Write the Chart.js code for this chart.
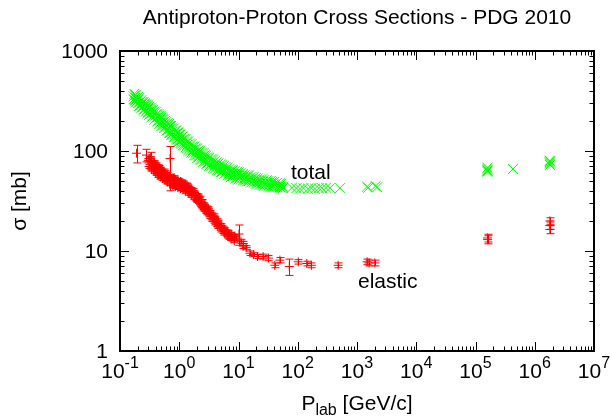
<!DOCTYPE html>
<html>
<head>
<meta charset="utf-8">
<title>Antiproton-Proton Cross Sections</title>
<script src="https://cdn.jsdelivr.net/npm/chart.js@4.4.1/dist/chart.umd.min.js"></script>
<style>
  body { margin: 0; background: #fff; }
  canvas { display: block; }
</style>
</head>
<body>
<canvas id="sigmaChart" width="611" height="416"></canvas>
<script>
// PDG 2010 pbar-p cross sections (P_lab in GeV/c, sigma in mb)

const totalP = [
  0.17, 0.17, 0.18, 0.18, 0.18, 0.19, 0.19, 0.20, 0.20, 0.20,
  0.22, 0.22, 0.22, 0.24, 0.24, 0.24, 0.26, 0.26, 0.26, 0.28,
  0.28, 0.28, 0.30, 0.30, 0.30, 0.33, 0.33, 0.33, 0.36, 0.36,
  0.36, 0.40, 0.40, 0.40, 0.44, 0.44, 0.44, 0.48, 0.48, 0.48,
  0.53, 0.53, 0.53, 0.58, 0.58, 0.58, 0.64, 0.64, 0.64, 0.70,
  0.70, 0.70, 0.77, 0.77, 0.77, 0.85, 0.85, 0.85, 0.93, 0.93,
  0.93, 1.0, 1.0, 1.0, 1.1, 1.1, 1.1, 1.2, 1.2, 1.2,
  1.35, 1.35, 1.35, 1.5, 1.5, 1.5, 1.7, 1.7, 1.7, 1.9,
  1.9, 1.9, 2.1, 2.1, 2.1, 2.4, 2.4, 2.4, 2.7, 2.7,
  2.7, 3.0, 3.0, 3.0, 3.5, 3.5, 3.5, 4.0, 4.0, 4.0,
  4.6, 4.6, 4.6, 5.3, 5.3, 5.3, 6.0, 6.0, 6.0, 7.0,
  7.0, 7.0, 8.0, 8.0, 8.0, 9.5, 9.5, 9.5, 11, 11,
  11, 13, 13, 13, 15, 15, 15, 18, 18, 18,
  21, 21, 21, 25, 25, 25, 30, 30, 30, 35,
  35, 35, 40, 40, 40, 50, 50, 50, 56, 56,
  80, 95, 109, 125, 149, 170, 196, 225, 257, 300,
  350, 516, 1480, 1550, 2050, 2200, 1.59e5, 1.59e5, 1.59e5, 1.59e5,
  1.59e5, 4.3e5, 1.8e6, 1.8e6, 1.8e6, 1.8e6, 1.8e6,
  0.175, 0.175, 0.185, 0.185, 0.21, 0.21, 0.23, 0.23, 0.25, 0.25,
  0.27, 0.27, 0.29, 0.29, 0.31, 0.31, 0.34, 0.34, 0.38, 0.38,
  0.42, 0.42, 0.46, 0.46, 0.50, 0.50, 0.55, 0.55, 0.61, 0.61,
  0.67, 0.67, 0.73, 0.73, 0.81, 0.81, 0.89, 0.89, 0.97, 0.97,
  1.05, 1.05, 1.15, 1.15, 1.28, 1.28, 1.42, 1.42, 1.6, 1.6,
  1.8, 1.8, 2.0, 2.0, 2.25, 2.25, 2.55, 2.55, 2.85, 2.85,
  3.2, 3.2, 3.7, 3.7, 4.3, 4.3, 5.0, 5.0, 5.7, 5.7,
  6.5, 6.5, 7.5, 7.5, 8.8, 8.8, 10, 10, 12, 12,
  14, 14, 16.5, 16.5, 19.5, 19.5, 23, 23, 27, 27,
  32, 32, 37, 37, 45, 45, 52, 52
];
const totalSigma = [
  352, 330, 340, 318, 360, 335, 312, 322, 300, 345,
  310, 292, 285, 298, 275, 310, 285, 262, 300, 275,
  255, 290, 265, 245, 280, 252, 235, 270, 242, 225,
  258, 228, 212, 245, 218, 200, 232, 205, 192, 222,
  194, 180, 210, 185, 172, 200, 175, 162, 190, 165,
  152, 178, 156, 145, 170, 147, 137, 160, 140, 130,
  152, 134, 124, 146, 128, 118, 138, 122, 113, 132,
  115, 106, 124, 108, 100, 118, 102, 95, 111, 97,
  90, 106, 93, 86, 101, 88, 82, 96, 84, 78,
  91, 80, 75, 87, 76, 71, 83, 72, 67, 79,
  69, 64, 75, 66, 62, 72, 64, 60, 69, 61,
  57, 66, 59, 56, 64, 57, 54, 62, 56, 52,
  60, 54, 51, 58, 53, 50, 57, 51, 48, 55,
  50, 47, 53, 49, 46, 52, 48, 45, 51, 47,
  44.5, 50, 46.5, 44, 49, 45.5, 43.5, 48, 44, 42.5,
  43, 42.5, 42, 42.5, 42, 42.5, 42, 42.5, 42.5, 43,
  42.5, 42.5, 44, 43, 44.5, 43.5, 62, 64, 66, 63.5,
  68, 66, 72.5, 75, 77, 79, 80,
  372, 322, 365, 305, 338, 282, 322, 270, 308, 258,
  296, 246, 286, 238, 276, 230, 262, 218, 248, 205,
  236, 196, 226, 186, 216, 178, 206, 170, 196, 160,
  186, 152, 178, 145, 168, 138, 160, 131, 153, 125,
  146, 120, 140, 114, 132, 108, 125, 102, 117, 96,
  111, 91, 106, 86, 100, 82, 95, 78, 90, 74,
  86, 71, 82, 68, 77, 64, 74, 61, 71, 59,
  68, 57, 65, 55, 63, 53, 61, 52, 59, 51,
  57, 49.5, 55, 48.5, 53.5, 47, 52, 46, 51, 45,
  50, 44.5, 49, 44, 48, 43.5, 47, 43
];

const elasticP = [
  0.19, 0.28, 0.33, 0.70, 0.30, 0.32, 0.35, 0.35, 0.38, 0.38,
  0.42, 0.42, 0.46, 0.46, 0.50, 0.50, 0.55, 0.55, 0.60, 0.60,
  0.66, 0.70, 0.75, 0.82, 0.82, 0.90, 0.90, 1.0, 1.0, 1.1,
  1.1, 1.2, 1.2, 1.35, 1.35, 1.5, 1.5, 1.7, 1.7, 1.9,
  1.9, 2.1, 2.1, 2.3, 2.3, 2.5, 2.5, 2.8, 2.8, 3.1,
  3.1, 3.4, 3.8, 3.8, 4.3, 4.3, 4.8, 5.5, 5.5, 6.2,
  7.0, 7.0, 8.1, 9.0, 10.2, 11, 12, 12, 15.6, 26,
  32, 41, 50, 72, 102, 142, 170, 480, 1480, 1600,
  2000, 1.6e5, 1.6e5, 1.8e6, 1.8e6, 1.8e6,
  0.31, 0.31, 0.34, 0.34, 0.37, 0.37, 0.40, 0.40, 0.44, 0.44,
  0.48, 0.48, 0.52, 0.52, 0.57, 0.57, 0.63, 0.63, 0.69, 0.69,
  0.78, 0.78, 0.86, 0.86, 0.95, 0.95, 1.05, 1.05, 1.15, 1.15,
  1.28, 1.28, 1.42, 1.42, 1.6, 1.6, 1.8, 1.8, 2.0, 2.0,
  2.2, 2.2, 2.4, 2.4, 2.65, 2.65, 2.95, 2.95, 3.3, 3.3,
  3.6, 3.6, 4.0, 4.0, 4.5, 4.5, 5.1, 5.1, 5.8, 5.8,
  6.6, 6.6, 7.5, 7.5, 8.5, 8.5, 13.5, 18, 21
];
const elasticSigma = [
  95, 91, 87, 84, 80, 84, 74, 68, 70, 76,
  67, 62, 63, 68, 61, 56, 58, 63, 56, 52,
  54, 46, 52, 50, 54, 49, 45.5, 47.5, 44, 46,
  49, 44.5, 41.5, 42.5, 45.5, 41, 38, 38, 40.5, 35.5,
  33, 33, 35.5, 31, 29, 29, 27, 27, 25, 24.5,
  26.5, 23, 21, 22.5, 20, 18.5, 18, 16.9, 15.8, 15.5,
  14.5, 13.8, 13.9, 13.5, 14.8, 12.5, 11.9, 11.2, 9.5, 8.8,
  8.5, 7.2, 8.1, 7.0, 7.8, 7.5, 7.2, 7.2, 7.8, 7.6,
  7.6, 13.5, 13.0, 20, 18, 16.4,
  84, 70, 80, 66, 76, 63, 73, 60, 70, 57,
  66, 55, 63, 53, 61, 51, 58, 49, 56, 47,
  54, 45, 52, 44, 51, 43, 49.5, 42, 48, 41,
  46, 39.5, 44, 38, 41.5, 36, 38.5, 34, 36, 32,
  34, 30, 31.5, 28, 29, 26, 27, 24, 24.5, 22,
  23, 20.5, 21.5, 19, 19.5, 17.5, 18, 16.2, 16.5, 15,
  15.5, 14, 14.8, 13.2, 14, 12.6, 10.8, 9.2, 8.8
];
const elasticErr = [
  19, 13, 10, 27, 4, 4, 3.5, 3.5, 3.5, 4,
  3, 3, 3, 3.5, 3, 3, 3, 3, 2.5, 2.5,
  2.5, 6, 2.5, 2.5, 2.5, 2, 2, 2, 2, 2,
  2, 2, 2, 2, 2, 2, 2, 1.8, 1.8, 1.6,
  1.6, 1.5, 1.5, 1.4, 1.4, 1.3, 1.3, 1.2, 1.2, 1.1,
  1.1, 1, 1, 1, 1, 0.9, 0.9, 0.8, 0.8, 0.8,
  0.7, 0.7, 0.7, 0.7, 3.4, 0.6, 0.6, 0.6, 0.5, 0.5,
  0.5, 0.4, 0.5, 1.3, 0.4, 0.4, 0.4, 0.4, 0.5, 0.5,
  0.5, 1.2, 1.2, 1.5, 1.5, 1.5,
  3.5, 3, 3.5, 3, 3, 3, 3, 2.5, 3, 2.5,
  2.5, 2.5, 2.5, 2, 2.5, 2, 2.5, 2, 2, 2,
  2, 2, 2, 1.8, 2, 1.8, 2, 1.8, 2, 1.8,
  1.8, 1.6, 1.8, 1.6, 1.6, 1.5, 1.5, 1.4, 1.4, 1.3,
  1.3, 1.2, 1.2, 1.1, 1.1, 1, 1, 1, 1, 0.9,
  0.9, 0.8, 0.8, 0.8, 0.8, 0.7, 0.7, 0.7, 0.7, 0.6,
  0.6, 0.6, 0.6, 0.5, 0.6, 0.5, 0.5, 0.4, 0.4
];

const xDecades = [-1, 0, 1, 2, 3, 4, 5, 6, 7];
const yTickValues = [1, 10, 100, 1000];
const titleText = 'Antiproton-Proton Cross Sections - PDG 2010';
const plotLabels = [
  { text: 'total', p: 77, sigma: 60 },
  { text: 'elastic', p: 1040, sigma: 4.9 }
];

const FONT = '"Liberation Sans", Arial, Helvetica, sans-serif';

// gnuplot style error bars with caps, drawn through the chart scales
const errorBars = {
  id: 'errorBars',
  afterDatasetsDraw(chart) {
    const { ctx, scales: { x, y } } = chart;
    ctx.save();
    ctx.strokeStyle = '#ff0000';
    ctx.lineWidth = 1;
    elasticP.forEach((p, i) => {
      const px = Math.round(x.getPixelForValue(p)) + 0.5;
      const top = y.getPixelForValue(elasticSigma[i] + elasticErr[i]);
      const bot = y.getPixelForValue(elasticSigma[i] - elasticErr[i]);
      ctx.beginPath();
      ctx.moveTo(px, top);
      ctx.lineTo(px, bot);
      ctx.moveTo(px - 4, top);
      ctx.lineTo(px + 4, top);
      ctx.moveTo(px - 4, bot);
      ctx.lineTo(px + 4, bot);
      ctx.stroke();
    });
    ctx.restore();
  }
};

// border, inward tics and all the text
const gnuplotFrame = {
  id: 'gnuplotFrame',
  beforeDraw(chart) {
    const { ctx, width, height } = chart;
    ctx.save();
    ctx.fillStyle = '#fff';
    ctx.fillRect(0, 0, width, height);
    ctx.restore();
  },
  afterDraw(chart) {
    const { ctx, chartArea: a, scales: { x, y } } = chart;
    ctx.save();
    ctx.strokeStyle = '#000';
    ctx.fillStyle = '#000';

    // tics
    ctx.lineWidth = 1;
    ctx.beginPath();
    xDecades.forEach((d) => {
      const steps = d < 7 ? [1, 2, 3, 4, 5, 6, 7, 8, 9] : [1];
      steps.forEach((m) => {
        const px = Math.round(x.getPixelForValue(m * Math.pow(10, d))) + 0.5;
        const len = m === 1 ? 9 : 4.5;
        ctx.moveTo(px, a.bottom);
        ctx.lineTo(px, a.bottom - len);
        ctx.moveTo(px, a.top);
        ctx.lineTo(px, a.top + len);
      });
    });
    yTickValues.forEach((v) => {
      const steps = v < 1000 ? [1, 2, 3, 4, 5, 6, 7, 8, 9] : [1];
      steps.forEach((m) => {
        const py = Math.round(y.getPixelForValue(m * v)) + 0.5;
        const len = m === 1 ? 9 : 4.5;
        ctx.moveTo(a.left, py);
        ctx.lineTo(a.left + len, py);
        ctx.moveTo(a.right, py);
        ctx.lineTo(a.right - len, py);
      });
    });
    ctx.stroke();

    ctx.lineWidth = 2;
    ctx.strokeRect(a.left, a.top, a.right - a.left, a.bottom - a.top);

    // title
    ctx.font = '21px ' + FONT;
    ctx.textAlign = 'center';
    ctx.textBaseline = 'middle';
    ctx.fillText(titleText, (a.left + a.right) / 2, 18);

    // y tick labels
    ctx.textAlign = 'right';
    yTickValues.forEach((v) => {
      ctx.fillText(String(v), a.left - 12, y.getPixelForValue(v) + 1);
    });

    // x tick labels 10^n
    ctx.textAlign = 'left';
    ctx.textBaseline = 'alphabetic';
    xDecades.forEach((d) => {
      const px = x.getPixelForValue(Math.pow(10, d));
      ctx.font = '21px ' + FONT;
      const wBase = ctx.measureText('10').width;
      ctx.font = '16px ' + FONT;
      const wExp = ctx.measureText(String(d)).width;
      const left = px - (wBase + wExp) / 2;
      ctx.font = '21px ' + FONT;
      ctx.fillText('10', left, 378);
      ctx.font = '16px ' + FONT;
      ctx.fillText(String(d), left + wBase, 368);
    });

    // x title P_lab [GeV/c]
    ctx.font = '21px ' + FONT;
    const wP = ctx.measureText('P').width;
    const wRest = ctx.measureText(' [GeV/c]').width;
    ctx.font = '16px ' + FONT;
    const wSub = ctx.measureText('lab').width;
    let tx = (a.left + a.right) / 2 - (wP + wSub + wRest) / 2;
    ctx.font = '21px ' + FONT;
    ctx.fillText('P', tx, 410);
    ctx.font = '16px ' + FONT;
    ctx.fillText('lab', tx + wP, 415);
    ctx.font = '21px ' + FONT;
    ctx.fillText(' [GeV/c]', tx + wP + wSub, 410);

    // y title
    ctx.save();
    ctx.translate(20, (a.top + a.bottom) / 2);
    ctx.rotate(-Math.PI / 2);
    ctx.textAlign = 'center';
    ctx.textBaseline = 'middle';
    ctx.fillText('σ [mb]', 0, 0);
    ctx.restore();

    // curve labels
    ctx.textAlign = 'left';
    ctx.textBaseline = 'middle';
    plotLabels.forEach((l) => {
      ctx.fillText(l.text, x.getPixelForValue(l.p), y.getPixelForValue(l.sigma));
    });

    ctx.restore();
  }
};

new Chart(document.getElementById('sigmaChart'), {
  type: 'scatter',
  data: {
    datasets: [
      {
        label: 'total',
        data: totalP.map((p, i) => ({ x: p, y: totalSigma[i] })),
        pointStyle: 'crossRot',
        pointRadius: 7,
        pointHoverRadius: 7,
        borderWidth: 1,
        borderColor: '#00ff00',
        backgroundColor: '#00ff00',
      },
      {
        label: 'elastic',
        data: elasticP.map((p, i) => ({ x: p, y: elasticSigma[i] })),
        pointStyle: 'cross',
        pointRadius: 4.5,
        pointHoverRadius: 4.5,
        borderWidth: 1,
        borderColor: '#ff0000',
        backgroundColor: '#ff0000',
      },
    ],
  },
  options: {
    responsive: false,
    animation: false,
    devicePixelRatio: 1,
    layout: { padding: { left: 120, right: 17, top: 51, bottom: 65 } },
    scales: {
      x: { type: 'logarithmic', min: 0.1, max: 1e7, display: false },
      y: { type: 'logarithmic', min: 1, max: 1000, display: false },
    },
    plugins: {
      legend: { display: false },
      tooltip: { enabled: false },
    },
    events: [],
  },
  plugins: [errorBars, gnuplotFrame],
});
</script>
</body>
</html>
